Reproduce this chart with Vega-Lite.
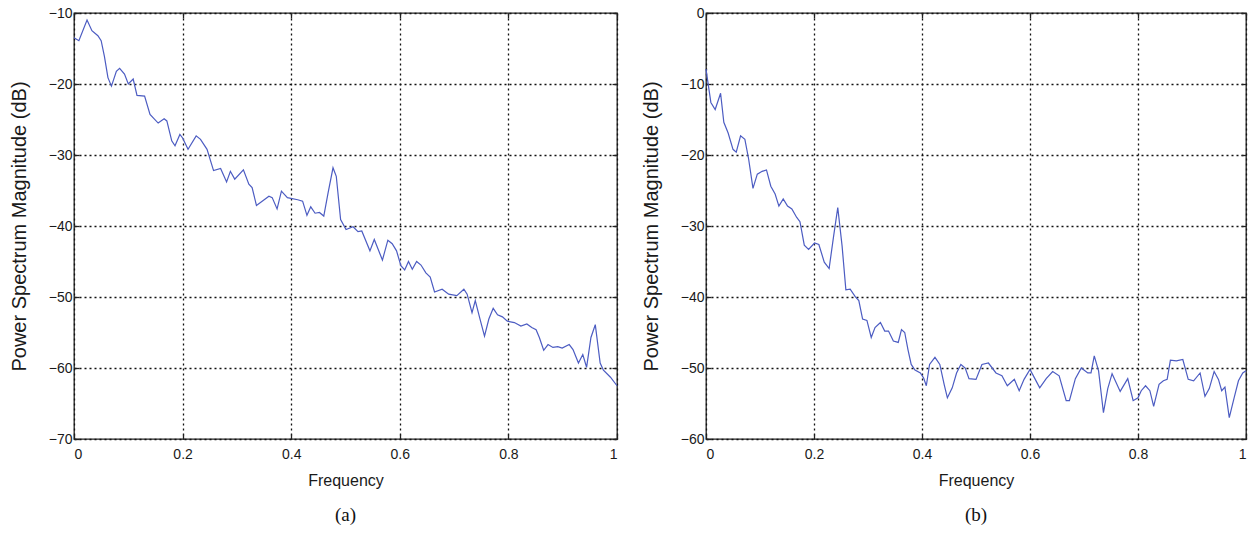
{
  "$schema": "https://vega.github.io/schema/vega-lite/v6.json",
  "padding": {"left": 8, "top": 5, "right": 0, "bottom": 2},
  "background": "white",
  "spacing": 19,
  "config": {
    "view": {"stroke": "#222", "strokeWidth": 1.3},
    "axis": {
      "labelFont": "Liberation Sans", "labelFontSize": 14, "labelColor": "#1a1a1a",
      "titleFont": "Liberation Sans", "titleFontWeight": "normal", "titleColor": "#1a1a1a",
      "grid": true, "gridColor": "#111", "gridDash": [2, 3], "gridWidth": 1.3,
      "domain": false, "tickColor": "#222", "tickSize": -5, "tickWidth": 1.3
    },
    "axisX": {"titleFontSize": 16, "labelPadding": 13, "titlePadding": 11},
    "axisY": {"titleFontSize": 20, "labelPadding": 7, "titlePadding": 19},
    "title": {"font": "Liberation Serif", "fontSize": 19, "fontWeight": "normal", "color": "#111", "orient": "bottom", "offset": 18}
  },
  "datasets": {
    "a": [
      {"f": 0, "db": -13.5}, {"f": 0.009, "db": -13.9}, {"f": 0.024, "db": -11.0}, {"f": 0.033, "db": -12.5},
      {"f": 0.044, "db": -13.2}, {"f": 0.05, "db": -13.9}, {"f": 0.056, "db": -16.1}, {"f": 0.0625, "db": -19.1},
      {"f": 0.069, "db": -20.3}, {"f": 0.078, "db": -18.2}, {"f": 0.084, "db": -17.8}, {"f": 0.093, "db": -18.6},
      {"f": 0.1, "db": -20.0}, {"f": 0.109, "db": -19.3}, {"f": 0.116, "db": -21.6}, {"f": 0.13, "db": -21.7},
      {"f": 0.14, "db": -24.3}, {"f": 0.155, "db": -25.5}, {"f": 0.166, "db": -24.9}, {"f": 0.171, "db": -25.2},
      {"f": 0.18, "db": -28.0}, {"f": 0.186, "db": -28.7}, {"f": 0.195, "db": -27.1}, {"f": 0.2, "db": -27.6},
      {"f": 0.21, "db": -29.2}, {"f": 0.225, "db": -27.3}, {"f": 0.233, "db": -27.8}, {"f": 0.245, "db": -29.2},
      {"f": 0.257, "db": -32.2}, {"f": 0.27, "db": -31.9}, {"f": 0.281, "db": -33.8}, {"f": 0.288, "db": -32.3},
      {"f": 0.296, "db": -33.4}, {"f": 0.312, "db": -32.1}, {"f": 0.322, "db": -34.1}, {"f": 0.328, "db": -34.6},
      {"f": 0.336, "db": -37.1}, {"f": 0.359, "db": -35.8}, {"f": 0.365, "db": -36.0}, {"f": 0.374, "db": -37.6},
      {"f": 0.382, "db": -35.1}, {"f": 0.393, "db": -36.0}, {"f": 0.412, "db": -36.3}, {"f": 0.421, "db": -36.5},
      {"f": 0.429, "db": -38.5}, {"f": 0.436, "db": -37.3}, {"f": 0.444, "db": -38.2}, {"f": 0.452, "db": -38.1},
      {"f": 0.46, "db": -38.6}, {"f": 0.468, "db": -35.3}, {"f": 0.477, "db": -31.8}, {"f": 0.483, "db": -33.0},
      {"f": 0.491, "db": -39.1}, {"f": 0.501, "db": -40.5}, {"f": 0.514, "db": -40.1}, {"f": 0.523, "db": -40.8},
      {"f": 0.53, "db": -40.7}, {"f": 0.545, "db": -43.5}, {"f": 0.553, "db": -41.9}, {"f": 0.568, "db": -44.8},
      {"f": 0.578, "db": -42.0}, {"f": 0.586, "db": -42.5}, {"f": 0.594, "db": -43.5}, {"f": 0.602, "db": -45.6},
      {"f": 0.609, "db": -46.2}, {"f": 0.616, "db": -45.0}, {"f": 0.623, "db": -46.1}, {"f": 0.631, "db": -45.0},
      {"f": 0.639, "db": -45.5}, {"f": 0.648, "db": -46.6}, {"f": 0.656, "db": -47.2}, {"f": 0.664, "db": -49.3},
      {"f": 0.678, "db": -48.9}, {"f": 0.69, "db": -49.6}, {"f": 0.705, "db": -49.8}, {"f": 0.718, "db": -48.9},
      {"f": 0.724, "db": -49.6}, {"f": 0.733, "db": -52.2}, {"f": 0.739, "db": -50.5}, {"f": 0.747, "db": -52.9},
      {"f": 0.756, "db": -55.5}, {"f": 0.764, "db": -53.1}, {"f": 0.772, "db": -51.6}, {"f": 0.78, "db": -52.5},
      {"f": 0.789, "db": -52.8}, {"f": 0.798, "db": -53.4}, {"f": 0.811, "db": -53.6}, {"f": 0.823, "db": -54.1},
      {"f": 0.834, "db": -53.8}, {"f": 0.843, "db": -54.3}, {"f": 0.851, "db": -54.6}, {"f": 0.857, "db": -55.7},
      {"f": 0.865, "db": -57.5}, {"f": 0.873, "db": -56.7}, {"f": 0.882, "db": -57.1}, {"f": 0.891, "db": -57.0},
      {"f": 0.899, "db": -57.2}, {"f": 0.912, "db": -56.7}, {"f": 0.919, "db": -57.4}, {"f": 0.929, "db": -59.3},
      {"f": 0.937, "db": -58.1}, {"f": 0.944, "db": -59.9}, {"f": 0.952, "db": -55.7}, {"f": 0.96, "db": -53.9},
      {"f": 0.969, "db": -59.3}, {"f": 0.975, "db": -60.3}, {"f": 0.988, "db": -61.3}, {"f": 1.0, "db": -62.5}
    ],
    "b": [
      {"f": 0, "db": -7.9}, {"f": 0.009, "db": -12.6}, {"f": 0.017, "db": -13.6}, {"f": 0.027, "db": -11.3},
      {"f": 0.033, "db": -15.4}, {"f": 0.041, "db": -16.9}, {"f": 0.05, "db": -19.2}, {"f": 0.056, "db": -19.6},
      {"f": 0.064, "db": -17.3}, {"f": 0.072, "db": -17.8}, {"f": 0.079, "db": -20.6}, {"f": 0.087, "db": -24.7},
      {"f": 0.095, "db": -22.7}, {"f": 0.104, "db": -22.3}, {"f": 0.112, "db": -22.1}, {"f": 0.12, "db": -24.4},
      {"f": 0.128, "db": -25.5}, {"f": 0.135, "db": -27.2}, {"f": 0.143, "db": -26.2}, {"f": 0.151, "db": -27.2},
      {"f": 0.159, "db": -27.6}, {"f": 0.168, "db": -28.8}, {"f": 0.174, "db": -29.4}, {"f": 0.182, "db": -32.7},
      {"f": 0.19, "db": -33.3}, {"f": 0.201, "db": -32.4}, {"f": 0.209, "db": -32.6}, {"f": 0.219, "db": -35.1},
      {"f": 0.228, "db": -36.0}, {"f": 0.236, "db": -31.6}, {"f": 0.244, "db": -27.4}, {"f": 0.252, "db": -32.8},
      {"f": 0.259, "db": -39.0}, {"f": 0.267, "db": -38.9}, {"f": 0.276, "db": -39.9}, {"f": 0.283, "db": -40.5},
      {"f": 0.29, "db": -43.1}, {"f": 0.298, "db": -43.3}, {"f": 0.306, "db": -45.7}, {"f": 0.313, "db": -44.3},
      {"f": 0.323, "db": -43.6}, {"f": 0.331, "db": -44.8}, {"f": 0.338, "db": -44.8}, {"f": 0.347, "db": -46.2},
      {"f": 0.356, "db": -46.4}, {"f": 0.362, "db": -44.6}, {"f": 0.368, "db": -45.0}, {"f": 0.374, "db": -47.4},
      {"f": 0.38, "db": -49.5}, {"f": 0.387, "db": -50.3}, {"f": 0.397, "db": -50.7}, {"f": 0.403, "db": -51.4},
      {"f": 0.408, "db": -52.5}, {"f": 0.414, "db": -49.5}, {"f": 0.424, "db": -48.5}, {"f": 0.433, "db": -49.5},
      {"f": 0.441, "db": -52.3}, {"f": 0.447, "db": -54.2}, {"f": 0.456, "db": -52.8}, {"f": 0.464, "db": -50.7},
      {"f": 0.472, "db": -49.5}, {"f": 0.48, "db": -50.0}, {"f": 0.487, "db": -51.5}, {"f": 0.5, "db": -51.6},
      {"f": 0.511, "db": -49.5}, {"f": 0.523, "db": -49.3}, {"f": 0.537, "db": -50.7}, {"f": 0.548, "db": -51.1},
      {"f": 0.558, "db": -52.5}, {"f": 0.571, "db": -51.6}, {"f": 0.58, "db": -53.2}, {"f": 0.589, "db": -51.6},
      {"f": 0.6, "db": -50.2}, {"f": 0.609, "db": -51.5}, {"f": 0.618, "db": -52.8}, {"f": 0.63, "db": -51.5},
      {"f": 0.642, "db": -50.5}, {"f": 0.654, "db": -51.1}, {"f": 0.667, "db": -54.6}, {"f": 0.673, "db": -54.6},
      {"f": 0.684, "db": -51.5}, {"f": 0.695, "db": -50.0}, {"f": 0.707, "db": -50.7}, {"f": 0.713, "db": -50.7},
      {"f": 0.719, "db": -48.3}, {"f": 0.727, "db": -50.4}, {"f": 0.736, "db": -56.3}, {"f": 0.744, "db": -52.9},
      {"f": 0.752, "db": -50.8}, {"f": 0.767, "db": -53.3}, {"f": 0.781, "db": -51.5}, {"f": 0.791, "db": -54.6},
      {"f": 0.8, "db": -54.2}, {"f": 0.806, "db": -53.2}, {"f": 0.814, "db": -52.5}, {"f": 0.822, "db": -53.2},
      {"f": 0.829, "db": -55.4}, {"f": 0.839, "db": -52.3}, {"f": 0.847, "db": -51.8}, {"f": 0.854, "db": -51.6},
      {"f": 0.86, "db": -48.9}, {"f": 0.871, "db": -49.0}, {"f": 0.883, "db": -48.8}, {"f": 0.893, "db": -51.6},
      {"f": 0.903, "db": -51.8}, {"f": 0.915, "db": -50.7}, {"f": 0.924, "db": -54.0}, {"f": 0.932, "db": -52.9},
      {"f": 0.941, "db": -50.5}, {"f": 0.949, "db": -51.6}, {"f": 0.955, "db": -53.2}, {"f": 0.961, "db": -52.7},
      {"f": 0.969, "db": -57.0}, {"f": 0.978, "db": -54.2}, {"f": 0.986, "db": -51.8}, {"f": 0.994, "db": -50.7},
      {"f": 1.0, "db": -50.4}
    ]
  },
  "hconcat": [
    {
      "width": 543, "height": 426,
      "title": {"text": "(a)"},
      "data": {"name": "a"},
      "layer": [
        {
          "mark": {"type": "line", "color": "#4c5cc2", "strokeWidth": 1.2},
          "encoding": {
            "x": {"field": "f", "type": "quantitative", "scale": {"domain": [0, 1], "nice": false},
                  "axis": {"values": [0, 0.2, 0.4, 0.6, 0.8, 1], "format": "~r", "title": "Frequency", "orient": "bottom"}},
            "y": {"field": "db", "type": "quantitative", "scale": {"domain": [-70, -10], "nice": false, "zero": false},
                  "axis": {"values": [-70, -60, -50, -40, -30, -20, -10], "format": "d", "title": "Power Spectrum Magnitude (dB)", "orient": "left"}}
          }
        },
        {
          "mark": {"type": "line", "strokeOpacity": 0},
          "encoding": {
            "x": {"field": "f", "type": "quantitative", "axis": {"values": [0, 0.2, 0.4, 0.6, 0.8, 1], "orient": "top", "labels": false, "grid": false, "title": null}},
            "y": {"field": "db", "type": "quantitative", "axis": {"values": [-70, -60, -50, -40, -30, -20, -10], "orient": "right", "labels": false, "grid": false, "title": null}}
          }
        }
      ],
      "resolve": {"axis": {"x": "independent", "y": "independent"}}
    },
    {
      "width": 540, "height": 426,
      "title": {"text": "(b)"},
      "data": {"name": "b"},
      "layer": [
        {
          "mark": {"type": "line", "color": "#4c5cc2", "strokeWidth": 1.2},
          "encoding": {
            "x": {"field": "f", "type": "quantitative", "scale": {"domain": [0, 1], "nice": false},
                  "axis": {"values": [0, 0.2, 0.4, 0.6, 0.8, 1], "format": "~r", "title": "Frequency", "orient": "bottom"}},
            "y": {"field": "db", "type": "quantitative", "scale": {"domain": [-60, 0], "nice": false, "zero": false},
                  "axis": {"values": [-60, -50, -40, -30, -20, -10, 0], "format": "d", "title": "Power Spectrum Magnitude (dB)", "orient": "left"}}
          }
        },
        {
          "mark": {"type": "line", "strokeOpacity": 0},
          "encoding": {
            "x": {"field": "f", "type": "quantitative", "axis": {"values": [0, 0.2, 0.4, 0.6, 0.8, 1], "orient": "top", "labels": false, "grid": false, "title": null}},
            "y": {"field": "db", "type": "quantitative", "axis": {"values": [-60, -50, -40, -30, -20, -10, 0], "orient": "right", "labels": false, "grid": false, "title": null}}
          }
        }
      ],
      "resolve": {"axis": {"x": "independent", "y": "independent"}}
    }
  ]
}
